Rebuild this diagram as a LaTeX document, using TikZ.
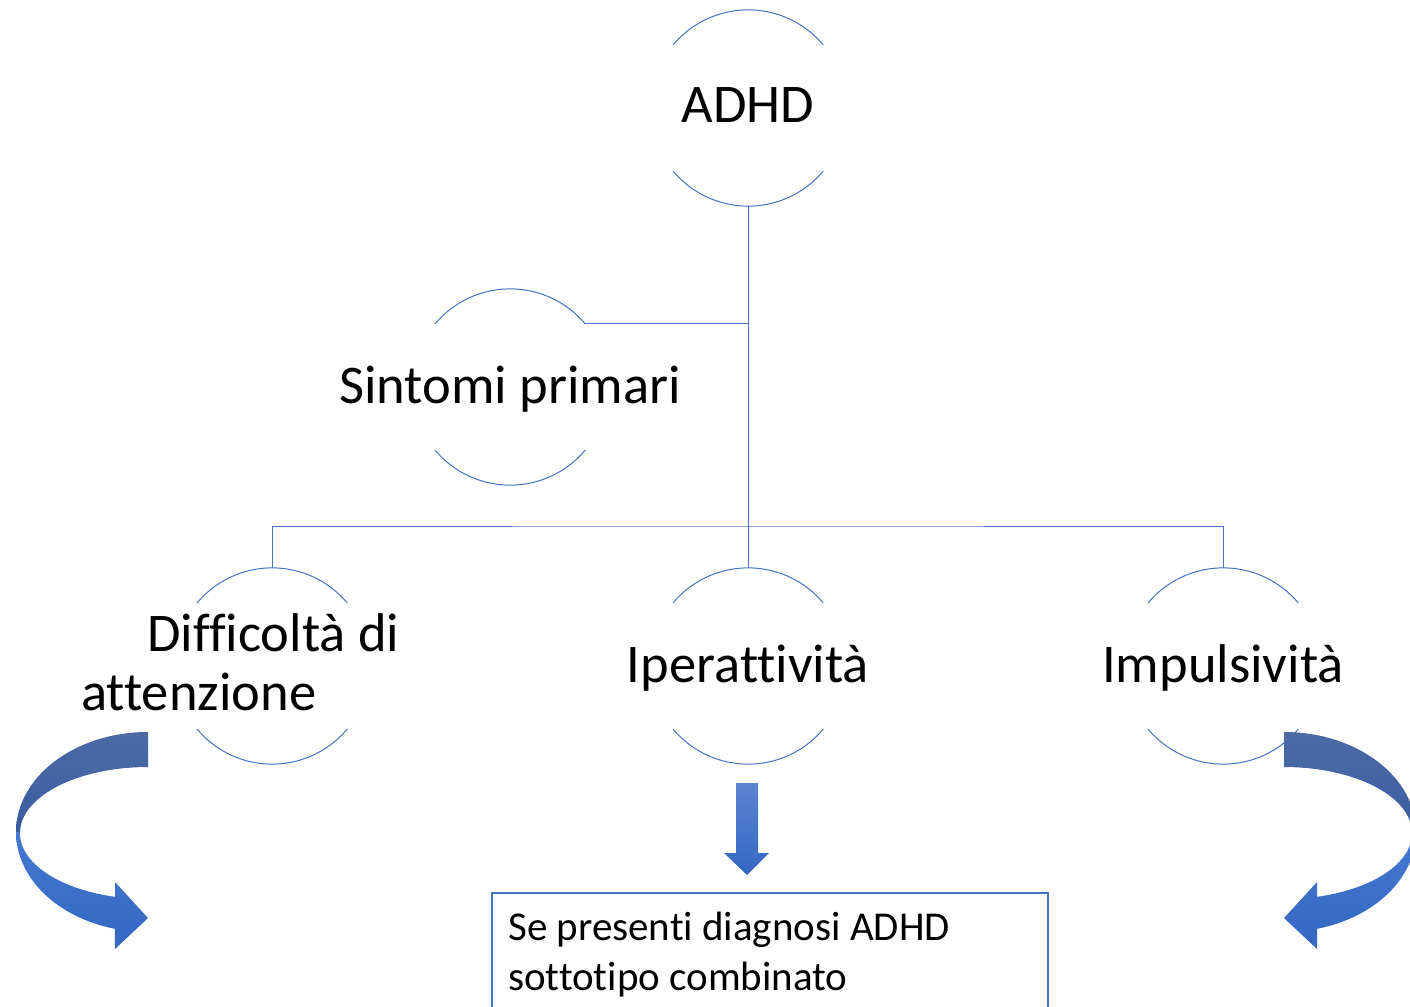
\documentclass[tikz,border=0pt]{standalone}
\usepackage{fontspec}
\setmainfont{Carlito}[Ligatures=NoCommon]
\begin{document}
\begin{tikzpicture}[x=1pt,y=-1pt]
\definecolor{linkblue}{RGB}{68,114,196}
\definecolor{backtop}{RGB}{76,106,166}
\definecolor{backbot}{RGB}{58,92,158}
\definecolor{fronttop}{RGB}{68,120,208}
\definecolor{frontbot}{RGB}{51,103,193}
\definecolor{shafttop}{RGB}{92,132,208}
\tikzset{
  circ/.style={circle,minimum size=196pt,inner sep=0pt},
  rim/.style={draw=linkblue,line width=1pt},
  conn/.style={draw=linkblue,line width=1pt},
  lbl/.style={font=\fontsize{54.5}{64}\selectfont,inner sep=0pt,anchor=base},
  boxtxt/.style={font=\fontsize{41}{50}\selectfont,inner sep=0pt,anchor=base west},
  backband/.style={top color=backtop,bottom color=backbot,draw=none},
  frontband/.style={top color=fronttop,bottom color=frontbot,draw=none},
}
\useasboundingbox (0,0) rectangle (1410,1006);
\clip (0,0) rectangle (1410,1006);
\fill[white] (0,0) rectangle (1410,1006);

% circle placeholders
\node[circ] (adhd) at (748,108) {};
\node[circ] (sint) at (510,387) {};
\node[circ] (diff) at (272,666) {};
\node[circ] (iper) at (748,666) {};
\node[circ] (impu) at (1223,666) {};
\coordinate (bus) at (748,526);

% open rims: only top and bottom arcs of each circle
\foreach \c in {adhd,sint,diff,iper,impu}{
  \draw[rim] (\c.40) arc[start angle=-40,end angle=-140,radius=98];
  \draw[rim] (\c.-40) arc[start angle=40,end angle=140,radius=98];
}

% connectors
\draw[conn] (adhd.south) -- (iper.north);
\draw[conn] (sint.40) -- (sint.40 -| adhd.south);
\draw[conn] (diff.north) |- (bus) -| (impu.north);

% labels
\node[lbl] (tadhd) at (748,123) {ADHD};
\node[lbl] (tsint) at (510,403) {Sintomi primari};
\node[lbl,anchor=base west] (tdiff1) at (147,651) {Difficoltà di};
\node[lbl,anchor=base west] (tdiff2) at (81,710) {attenzione};
\node[lbl] (tiper) at (748,682) {Iperattività};
\node[lbl] (timpu) at (1223,682) {Impulsività};

% bottom box
\node[draw=linkblue,line width=1.6pt,minimum width=556pt,minimum height=160pt,anchor=north west,inner sep=0pt] (box) at (491,892) {};
\node[boxtxt] (tbox1) at (508,940) {Se presenti diagnosi ADHD};
\node[boxtxt] (tbox2) at (508,990) {sottotipo combinato};

% straight down arrow
\shade[top color=shafttop,bottom color=frontbot]
  (736,783) -- (758,783) -- (758,853) -- (769,853) -- (747,875)
  -- (724,853) -- (736,853) -- cycle;

% curved arrow on the left
\begin{scope}
\shade[backband] (148,732) arc[start angle=-90,end angle=-180,x radius=132,y radius=100]
  -- (20,833) arc[start angle=180,end angle=270,x radius=128,y radius=66] -- cycle;
\shade[frontband] (16,832) arc[start angle=180,end angle=104.5,x radius=132,y radius=100]
  -- (115,949) -- (148,918) -- (115,882) -- (115,896.8)
  arc[start angle=104.9,end angle=180,x radius=128,y radius=66] -- cycle;
\end{scope}

% curved arrow on the right (mirror image)
\begin{scope}[xshift=1432pt,xscale=-1]
\shade[backband] (148,732) arc[start angle=-90,end angle=-180,x radius=132,y radius=100]
  -- (20,833) arc[start angle=180,end angle=270,x radius=128,y radius=66] -- cycle;
\shade[frontband] (16,832) arc[start angle=180,end angle=104.5,x radius=132,y radius=100]
  -- (115,949) -- (148,918) -- (115,882) -- (115,896.8)
  arc[start angle=104.9,end angle=180,x radius=128,y radius=66] -- cycle;
\end{scope}
\end{tikzpicture}
\end{document}
